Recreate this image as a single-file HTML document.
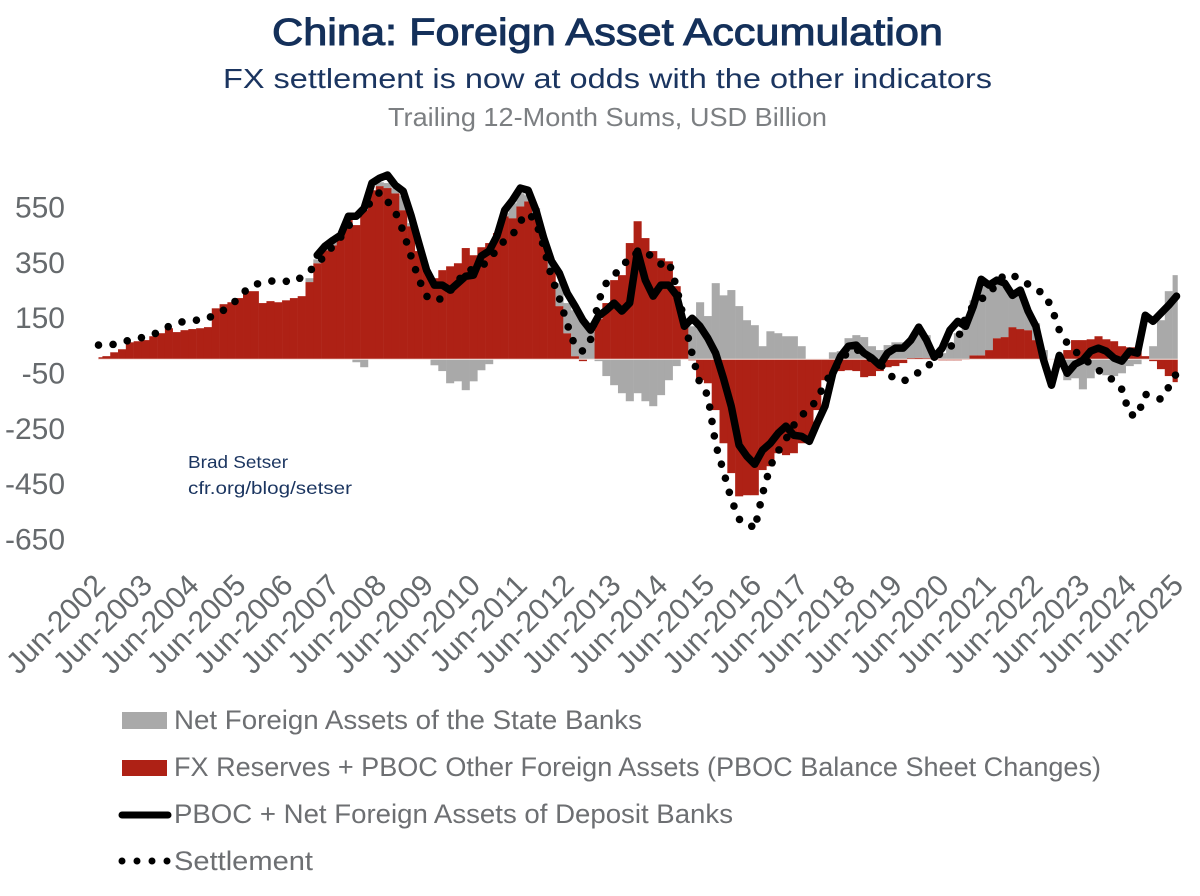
<!DOCTYPE html>
<html lang="en">
<head>
<meta charset="utf-8">
<title>China: Foreign Asset Accumulation</title>
<style>
html,body{margin:0;padding:0;background:#fff;}
#chart-root{display:block;width:1200px;height:896px;}
text{font-family:"Liberation Sans",sans-serif;}
</style>
</head>
<body>
<svg id="chart-root" xmlns="http://www.w3.org/2000/svg" width="1200" height="896" viewBox="0 0 1200 896">
  <rect x="0" y="0" width="1200" height="896" fill="#ffffff"/>
  <text x="272" y="45" font-size="38" fill="#14305a" stroke="#14305a" stroke-width="1" textLength="671" lengthAdjust="spacingAndGlyphs">China: Foreign Asset Accumulation</text>
  <text x="223" y="88" font-size="28" fill="#1b3560" textLength="769" lengthAdjust="spacingAndGlyphs">FX settlement is now at odds with the other indicators</text>
  <text x="388" y="126" font-size="26" fill="#7c7f82" textLength="439" lengthAdjust="spacingAndGlyphs">Trailing 12-Month Sums, USD Billion</text>
  <g id="bars"></g>
  <line x1="98" x2="1178" y1="359.2" y2="359.2" stroke="#f6e4df" stroke-width="1"/>
  <path id="settlement-line" fill="none" stroke="#000" stroke-width="7.6" stroke-linecap="round" stroke-linejoin="round" stroke-dasharray="0 14.6"/>
  <path id="pboc-line" fill="none" stroke="#000" stroke-width="7.5" stroke-linecap="round" stroke-linejoin="round"/>
  <g id="y-axis"></g>
  <g id="x-axis"></g>
  <text x="188" y="468" font-size="17.5" fill="#1b3560" textLength="100" lengthAdjust="spacingAndGlyphs">Brad Setser</text>
  <text x="188" y="494" font-size="17.5" fill="#1b3560" textLength="164" lengthAdjust="spacingAndGlyphs">cfr.org/blog/setser</text>
  <g>
    <g>
      <rect x="122" y="712" width="45" height="17" fill="#a9a9a9"/>
      <text x="174" y="729" font-size="27" fill="#6d6f72" textLength="468" lengthAdjust="spacingAndGlyphs">Net Foreign Assets of the State Banks</text>
    </g>
    <g>
      <rect x="122" y="760" width="45" height="16" fill="#ae2115"/>
      <text x="174" y="776" font-size="27" fill="#6d6f72" textLength="927" lengthAdjust="spacingAndGlyphs">FX Reserves + PBOC Other Foreign Assets (PBOC Balance Sheet Changes)</text>
    </g>
    <g>
      <line x1="122" x2="168" y1="815" y2="815" stroke="#000" stroke-width="7" stroke-linecap="round"/>
      <text x="174" y="823" font-size="27" fill="#6d6f72" textLength="559" lengthAdjust="spacingAndGlyphs">PBOC + Net Foreign Assets of Deposit Banks</text>
    </g>
    <g>
      <line x1="122" x2="168" y1="861" y2="861" stroke="#000" stroke-width="7" stroke-linecap="round" stroke-dasharray="0 15"/>
      <text x="174" y="870" font-size="27" fill="#6d6f72" textLength="139" lengthAdjust="spacingAndGlyphs">Settlement</text>
    </g>
  </g>
</svg>
<script>
// Values in USD billion, one sample every two months from Jun-2002 to Jun-2025.
const yTickValues = [550, 350, 150, -50, -250, -450, -650];
const xTickLabels = ["Jun-2002","Jun-2003","Jun-2004","Jun-2005","Jun-2006","Jun-2007","Jun-2008","Jun-2009","Jun-2010","Jun-2011","Jun-2012","Jun-2013","Jun-2014","Jun-2015","Jun-2016","Jun-2017","Jun-2018","Jun-2019","Jun-2020","Jun-2021","Jun-2022","Jun-2023","Jun-2024","Jun-2025"];
const samplesPerYear = 6;
const reservesSeries = [
  7,11,25,36,61,65,69,83,94,112,
  98,105,109,112,116,184,199,206,221,246,
  246,203,210,206,213,221,228,279,347,394,
  412,449,517,485,539,611,626,619,600,539,
  481,391,318,293,322,336,347,402,376,405,
  420,456,517,510,553,571,510,409,322,192,
  94,11,-7,0,145,203,286,304,420,499,
  438,391,365,354,264,130,-4,-76,-87,-184,
  -304,-412,-496,-492,-492,-401,-387,-340,-347,-340,
  -304,-279,-184,-76,-51,-43,-40,-43,-65,-61,
  -43,-29,-25,-14,4,5,4,-2,-4,-4,
  -4,-2,14,14,33,76,80,116,109,105,
  69,0,0,14,33,69,69,72,83,72,
  65,47,43,43,11,-7,-36,-61,-83
];
const stateBanksSeries = [
  0,0,0,0,0,0,0,0,0,0,
  0,0,0,0,0,0,0,0,0,0,
  0,0,0,0,0,0,0,14,14,7,
  11,0,0,-11,-29,0,14,18,18,51,
  11,0,0,-22,-43,-87,-80,-112,-80,-40,
  -18,0,11,54,47,22,36,18,36,83,
  109,166,141,98,-7,-61,-94,-123,-152,-123,
  -152,-170,-130,-76,-25,11,119,206,156,275,
  231,250,192,141,123,47,101,94,83,83,
  47,0,0,0,25,29,76,87,80,47,
  33,51,61,61,61,105,83,11,22,58,
  94,123,199,260,235,199,195,123,137,72,
  61,33,0,-11,-76,-69,-109,-69,-40,-58,
  -61,-51,-25,-18,0,47,141,246,304
];
const pbocFirstSample = 28;
const pbocSeries = [
  376,409,
  430,449,517,517,546,637,655,666,629,608,
  521,420,322,268,268,250,275,300,304,373,
  391,445,539,575,619,611,539,438,354,311,
  239,192,141,105,156,177,203,174,203,391,
  286,228,268,268,231,119,148,119,76,22,
  -69,-170,-311,-351,-380,-329,-304,-268,-242,-275,
  -279,-297,-231,-170,-51,11,47,51,22,4,
  -22,22,40,40,69,116,69,7,40,105,
  137,119,192,289,268,286,275,231,250,174,
  119,-4,-94,14,-51,-18,-4,29,40,29,
  4,-7,29,22,159,137,166,195,228
];
const settlementSeries = [
  51,51,54,61,69,76,80,90,101,119,
  130,137,141,141,148,163,177,195,224,253,
  271,275,282,286,282,279,297,318,344,376,
  409,441,481,517,543,571,604,571,532,463,
  373,289,228,210,221,246,282,318,326,336,
  358,398,430,449,499,528,499,405,297,221,
  127,47,29,72,210,275,307,326,376,383,
  387,369,344,354,260,137,18,-90,-130,-307,
  -405,-506,-579,-586,-615,-488,-387,-333,-289,-239,
  -203,-181,-145,-87,-43,-7,29,36,18,0,
  -14,-51,-72,-80,-65,-47,-33,4,25,43,
  72,152,195,217,235,275,307,304,289,271,
  250,239,188,105,58,29,7,-18,-40,-54,
  -80,-109,-199,-206,-127,-134,-145,-101,-51
];

const SVG_NS = "http://www.w3.org/2000/svg";
const plotLeft = 98.5, plotRight = 1176.5, zeroY = 359.2, pxPerUnit = 0.2765;
const sampleCount = reservesSeries.length;
function xPos(i) { return plotLeft + i * (plotRight - plotLeft) / (sampleCount - 1); }
function yPos(v) { return zeroY - v * pxPerUnit; }
const barW = (plotRight - plotLeft) / (sampleCount - 1);

function drawBar(group, i, from, to, fill, name) {
  if (from === to) return;
  const left = Math.max(xPos(i) - barW / 2, plotLeft);
  const right = Math.min(xPos(i) + barW / 2, plotRight + 1);
  const r = document.createElementNS(SVG_NS, "rect");
  r.setAttribute("x", left.toFixed(2));
  r.setAttribute("width", (right - left + 0.25).toFixed(2));
  r.setAttribute("y", Math.min(yPos(from), yPos(to)).toFixed(2));
  r.setAttribute("height", Math.abs(yPos(from) - yPos(to)).toFixed(2));
  r.setAttribute("fill", fill);
  
  
  group.appendChild(r);
}

const barsGroup = document.getElementById("bars");
reservesSeries.forEach(function (red, i) {
  const gray = stateBanksSeries[i];
  const grayBase = (red > 0 && gray > 0) || (red < 0 && gray < 0) ? red : 0;
  drawBar(barsGroup, i, 0, red, "#ae2115", "bar-fx-reserves");
  drawBar(barsGroup, i, grayBase, grayBase + gray, "#a9a9a9", "bar-state-banks");
});

function linePath(values, first) {
  return values.map(function (v, k) {
    return (k ? "L" : "M") + xPos(first + k).toFixed(2) + " " + yPos(v).toFixed(2);
  }).join(" ");
}
document.getElementById("settlement-line").setAttribute("d", linePath(settlementSeries, 0));
document.getElementById("pboc-line").setAttribute("d", linePath(pbocSeries, pbocFirstSample));

const yAxis = document.getElementById("y-axis");
yTickValues.forEach(function (v) {
  const t = document.createElementNS(SVG_NS, "text");
  t.setAttribute("x", "65");
  t.setAttribute("y", (yPos(v) + 10.5).toFixed(1));
  t.setAttribute("text-anchor", "end");
  t.setAttribute("font-size", "30");
  t.setAttribute("fill", "#666a6d");
  
  
  t.textContent = String(v);
  yAxis.appendChild(t);
});

const xAxis = document.getElementById("x-axis");
xTickLabels.forEach(function (label, k) {
  const px = xPos(k * samplesPerYear) + 8.5;
  const py = 587;
  const t = document.createElementNS(SVG_NS, "text");
  t.setAttribute("x", px.toFixed(1));
  t.setAttribute("y", py);
  t.setAttribute("text-anchor", "end");
  t.setAttribute("font-size", "30");
  t.setAttribute("fill", "#666a6d");
  t.setAttribute("transform", "rotate(-45 " + px.toFixed(1) + " " + py + ")");
  
  
  t.textContent = label;
  xAxis.appendChild(t);
});
</script>
</body>
</html>
